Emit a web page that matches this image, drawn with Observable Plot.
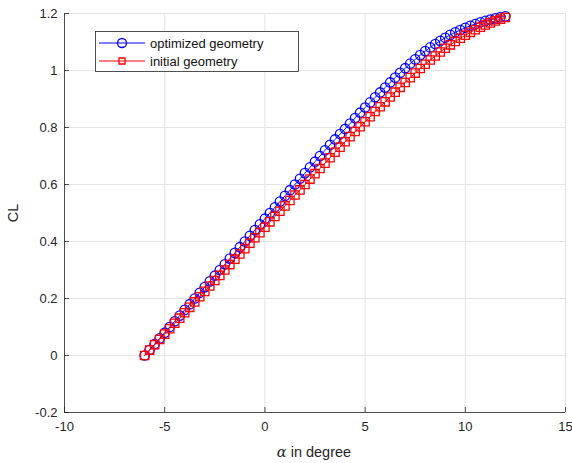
<!DOCTYPE html>
<html><head><meta charset="utf-8">
<script src="https://cdn.jsdelivr.net/npm/d3@7"></script>
<script src="https://cdn.jsdelivr.net/npm/@observablehq/plot@0.6"></script>
<style>body{margin:0;background:#fff}#chart{width:572px;height:463px}</style>
</head><body><div id="chart"></div>
<script>
const alpha = [-6,-5.75,-5.5,-5.25,-5,-4.75,-4.5,-4.25,-4,-3.75,-3.5,-3.25,-3,-2.75,-2.5,-2.25,-2,-1.75,-1.5,-1.25,-1,-0.75,-0.5,-0.25,0,
0.25,0.5,0.75,1,1.25,1.5,1.75,2,2.25,2.5,2.75,3,3.25,3.5,3.75,4,4.25,4.5,4.75,5,5.25,5.5,5.75,6,6.25,6.5,6.75,7,7.25,7.5,7.75,8,
8.25,8.5,8.75,9,9.25,9.5,9.75,10,10.25,10.5,10.75,11,11.25,11.5,11.75,12];
const clOptimized = [0,.02,.04,.06,.08, .10,.12,.14,.16, .18,.20,.22,.24, .26,.28,.30,.32, .34,.36,.38,.40, .42,.44,.46,.48,
.50,.52,.54,.56, .58,.60,.62,.64, .66,.68,.70,.72, .739,.758,.777,.795, .814,.833,.852,.870, .888,.906,.923,.940,
.958,.975,.992,1.008, 1.024,1.039,1.054,1.068, 1.081,1.093,1.104,1.115, 1.125,1.134,1.142,1.150, 1.157,1.163,1.169,1.174, 1.179,1.183,1.187,1.190];
const clInitial = [0,.019,.038,.056,.075, .094,.113,.131,.150, .169,.188,.206,.225, .244,.263,.281,.300, .319,.338,.356,.375, .394,.413,.431,.450,
.469,.488,.506,.525, .544,.563,.581,.600, .619,.638,.656,.675, .694,.713,.731,.750, .768,.786,.803,.820, .838,.856,.873,.890,
.907,.924,.941,.958, .975,.991,1.007,1.022, 1.037,1.051,1.065,1.078, 1.090,1.102,1.113,1.124, 1.134,1.143,1.152,1.160, 1.167,1.174,1.180,1.186];
const seriesNames = ["optimized geometry", "initial geometry"];
const xTicks = [-10,-5,0,5,10,15];
const yTicks = [-0.2,0,0.2,0.4,0.6,0.8,1,1.2];

const opt = alpha.map((a,i)=>({a, cl: clOptimized[i]}));
const ini = alpha.map((a,i)=>({a, cl: clInitial[i]}));

const W = 572, H = 463, mL = 64, mR = 7, mT = 13, mB = 51;
const plotW = W - mL - mR, plotH = H - mT - mB;
const axisColor = "#262626";
const fmt = d => String(d);
const R = 4.7;

const chart = Plot.plot({
  width: W, height: H,
  marginLeft: mL, marginRight: mR, marginTop: mT, marginBottom: mB,
  style: {fontFamily: "'Liberation Sans', Arial, sans-serif", fontSize: "13px", color: axisColor, background: "white"},
  x: {domain: [-10, 15]},
  y: {domain: [-0.2, 1.2]},
  marks: [
    Plot.gridX(xTicks, {stroke: "#e3e3e3", strokeOpacity: 1}),
    Plot.gridY(yTicks, {stroke: "#e3e3e3", strokeOpacity: 1}),
    Plot.line(opt, {x: "a", y: "cl", stroke: "#0000ff", strokeWidth: 1}),
    Plot.dot(opt, {x: "a", y: "cl", symbol: "circle", r: R, stroke: "#0000ff", fill: "none", strokeWidth: 1.3}),
    Plot.line(ini, {x: "a", y: "cl", stroke: "#ff0000", strokeWidth: 1}),
    Plot.dot(ini, {x: "a", y: "cl", symbol: "square", r: R, stroke: "#ff0000", fill: "none", strokeWidth: 1.3}),
    Plot.ruleX([-10], {stroke: axisColor, strokeWidth: 0.8}),
    Plot.ruleY([-0.2], {stroke: axisColor, strokeWidth: 0.8}),
    Plot.tickX(xTicks, {x: d => d, insetTop: plotH - 5, stroke: axisColor, strokeWidth: 0.8}),
    Plot.tickY(yTicks, {y: d => d, insetRight: plotW - 5, stroke: axisColor, strokeWidth: 0.8}),
    Plot.axisX(xTicks, {tickSize: 0, tickPadding: 9, label: null, tickFormat: fmt, fontSize: 13}),
    Plot.axisY(yTicks, {tickSize: 0, tickPadding: 7, label: null, tickFormat: fmt, fontSize: 13})
  ]
});
document.getElementById("chart").appendChild(chart);

const svg = d3.select(chart);
const font = "'Liberation Sans', Arial, sans-serif";
svg.append("text").attr("transform", "translate(18,213) rotate(-90)")
  .attr("text-anchor", "middle").attr("font-family", font).attr("font-size", 14.5).attr("fill", axisColor).text("CL");
const xl = svg.append("text").attr("x", 314).attr("y", 457).attr("text-anchor", "middle")
  .attr("font-family", font).attr("font-size", 14.5).attr("fill", axisColor);
xl.append("tspan").attr("font-family", "'DejaVu Serif', 'Liberation Serif', serif").attr("font-style", "italic").text("α");
xl.append("tspan").text(" in degree");

const lg = svg.append("g").attr("font-family", font).attr("font-size", 13).attr("text-anchor", "start");
lg.append("rect").attr("x", 95.5).attr("y", 31.5).attr("width", 203).attr("height", 40)
  .attr("fill", "white").attr("stroke", axisColor).attr("stroke-width", 0.8);
const items = [
  {name: seriesNames[0], color: "#0000ff", sym: d3.symbolCircle, y: 43},
  {name: seriesNames[1], color: "#ff0000", sym: d3.symbolSquare, y: 61}
];
for (const it of items) {
  lg.append("line").attr("x1", 99).attr("x2", 145).attr("y1", it.y).attr("y2", it.y)
    .attr("stroke", it.color).attr("stroke-width", 1);
  lg.append("path").attr("d", d3.symbol(it.sym, it.sym === d3.symbolCircle ? Math.PI * 4.5 * 4.5 : 36)())
    .attr("transform", `translate(122,${it.y})`).attr("fill", "none").attr("stroke", it.color).attr("stroke-width", 1.3);
  lg.append("text").attr("x", 150).attr("y", it.y).attr("dy", "0.35em").attr("fill", "#111").text(it.name);
}
</script></body></html>
